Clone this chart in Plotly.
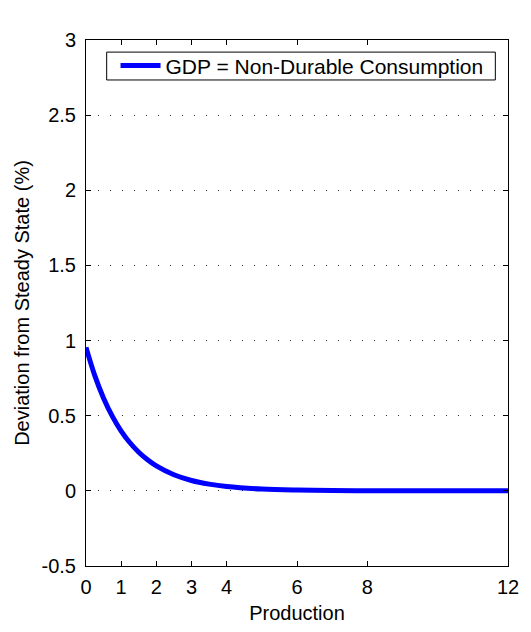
import plotly.graph_objects as go

# Data
production = [0, 0.25, 0.5, 0.75, 1, 1.25, 1.5, 1.75, 2, 2.5, 3, 3.5, 4, 5, 6, 7, 8, 9, 10, 11, 12]
gdp_nondurable = [0.955, 0.767, 0.617, 0.496, 0.398, 0.320, 0.257, 0.207, 0.166, 0.107,
                  0.069, 0.045, 0.029, 0.012, 0.005, 0.002, 0.001, 0.0, 0.0, 0.0, 0.0]
x_ticks = [0, 1, 2, 3, 4, 6, 8, 12]
y_ticks = [-0.5, 0, 0.5, 1, 1.5, 2, 2.5, 3]
y_tick_text = ["-0.5", "0", "0.5", "1", "1.5", "2", "2.5", "3"]

fig = go.Figure()
fig.add_trace(go.Scatter(
    x=production, y=gdp_nondurable, mode="lines",
    name="GDP = Non-Durable Consumption",
    line=dict(color="#0000FF", width=5, shape="spline"),
))

# legend frame (tight box like the reference)
fig.add_shape(type="rect", xref="paper", yref="paper",
              x0=0.049, x1=0.970, y0=0.924, y1=0.977,
              line=dict(color="black", width=1), fillcolor="white", layer="above")

font_family = "Liberation Sans, Arial, sans-serif"
fig.update_layout(
    width=531, height=632,
    margin=dict(l=86, r=16, t=40, b=64),
    paper_bgcolor="white", plot_bgcolor="white",
    font=dict(family=font_family, size=20, color="black"),
    showlegend=True,
    legend=dict(
        x=0.07, y=0.951, xanchor="left", yanchor="middle",
        bgcolor="rgba(0,0,0,0)", borderwidth=0,
        font=dict(size=21), itemwidth=40,
    ),
    xaxis=dict(
        range=[0, 12], tickvals=x_ticks, ticktext=[str(t) for t in x_ticks],
        ticks="inside", ticklen=5, tickcolor="black",
        showline=True, linecolor="black", linewidth=1, mirror="ticks",
        showgrid=False, zeroline=False, ticklabelstandoff=3,
        title=dict(text="Production", standoff=8, font=dict(size=20)),
    ),
    yaxis=dict(
        range=[-0.5, 3], tickvals=y_ticks, ticktext=y_tick_text,
        ticks="inside", ticklen=5, tickcolor="black",
        showline=True, linecolor="black", linewidth=1, mirror="ticks",
        showgrid=True, gridcolor="#333333", gridwidth=1, griddash="1px,11px",
        zeroline=False, ticklabelstandoff=5,
        title=dict(text="Deviation from Steady State (%)", standoff=6, font=dict(size=20)),
    ),
)

fig.write_html("out.html")
